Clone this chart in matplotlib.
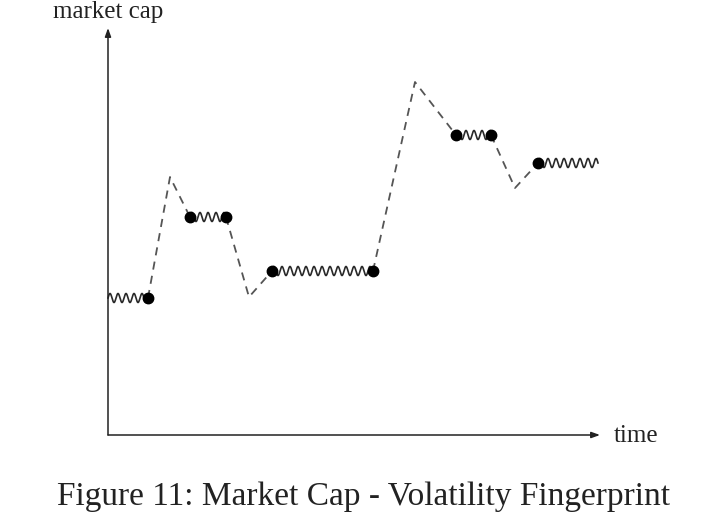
import numpy as np
import matplotlib
matplotlib.use("Agg")
import matplotlib.pyplot as plt

# Data (time, market cap) in arbitrary units
calm_start = [0.0, 8.2, 16.4, 34.8, 43.0]      # start of volatile (wiggly) plateau
calm_end   = [4.0, 11.8, 26.5, 38.3, 49.0]     # end of plateau
calm_level = [13.7, 21.8, 16.4, 30.0, 27.2]    # market cap level of plateau
jump_extreme_t = [6.2, 14.1, 30.7, 40.7]       # overshoot time between plateaus
jump_extreme_v = [25.8, 13.8, 35.3, 24.7]      # overshoot value
dot_start = [False, True, True, True, True]
dot_end   = [True, True, True, True, False]

x_axis_end = 49.2
y_axis_end = 40.7

plt.rcParams['font.family'] = ['Liberation Serif', 'DejaVu Serif']

fig = plt.figure(figsize=(7.28, 5.14), dpi=100)
ax = fig.add_axes([0, 0, 1, 1])
ax.set_xlim(-10.8, 62.0)
ax.set_ylim(-7.9, 43.5)
ax.axis('off')

# axes with arrows
arrow_kw = dict(arrowstyle='-|>,head_length=0.5,head_width=0.18', color='#222222', lw=1.1,
                shrinkA=0, shrinkB=0)
ax.annotate('', xy=(x_axis_end, 0), xytext=(0, 0), arrowprops=arrow_kw)
ax.annotate('', xy=(0, y_axis_end), xytext=(0, 0), arrowprops=arrow_kw)

ax.text(50.6, -0.1, 'time', ha='left', va='center', fontsize=18, color='#222222')
fig.text(108 / 728, 1 - 1 / 514, 'market cap', ha='center', va='top', fontsize=18,
         color='#222222')

# wiggly plateaus
period = 0.8
amp = 0.45
for s, e, lv in zip(calm_start, calm_end, calm_level):
    t = np.linspace(s, e, 400)
    ax.plot(t, lv + amp * np.sin(2 * np.pi * (t - s) / period), color='#2a2a2a', lw=1.2)

# dashed jumps
for i in range(len(jump_extreme_t)):
    xs = [calm_end[i], jump_extreme_t[i], calm_start[i + 1]]
    ys = [calm_level[i], jump_extreme_v[i], calm_level[i + 1]]
    ax.plot(xs, ys, color='#555555', lw=1.3, dashes=(4.5, 3.5))

# dots
for s, e, lv, ds, de in zip(calm_start, calm_end, calm_level, dot_start, dot_end):
    if ds:
        ax.plot([s], [lv], 'o', color='black', ms=7.5)
    if de:
        ax.plot([e], [lv], 'o', color='black', ms=7.5)

fig.text(0.5, 2 / 514, 'Figure 11: Market Cap - Volatility Fingerprint',
         ha='center', va='bottom', fontsize=24, color='#222222')

fig.savefig('out.png', dpi=100, facecolor='white')
